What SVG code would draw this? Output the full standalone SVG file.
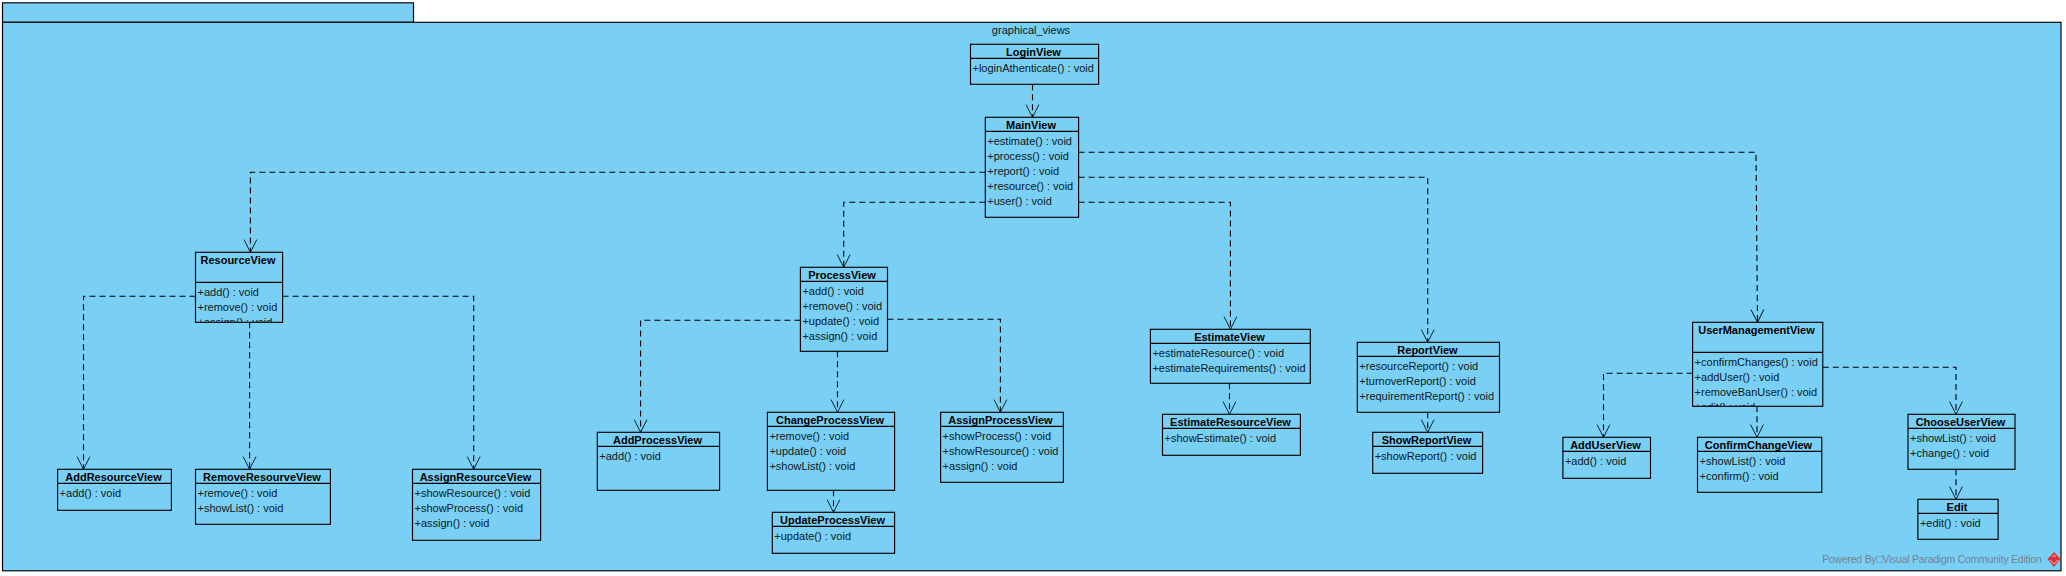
<svg xmlns="http://www.w3.org/2000/svg" width="2066" height="576" viewBox="0 0 2066 576">
<style>
text{font-family:"Liberation Sans",Arial,sans-serif;font-size:11px;fill:#0b1a22}
.b{fill:#7acff5;stroke:#000;stroke-width:1.15}
.d{fill:none;stroke:#000;stroke-width:1.15}
.t{font-weight:bold;text-anchor:middle;fill:#000}
.c{fill:none;stroke:#000;stroke-width:1.1;stroke-dasharray:6 4;marker-end:url(#open)}
.w{fill:#75838f;font-size:10.4px}
</style>
<defs>
<marker id="open" markerUnits="userSpaceOnUse" markerWidth="16" markerHeight="16" refX="13.2" refY="8" orient="auto" overflow="visible">
<path d="M0.5,1.6 L13.2,8 L0.5,14.4" fill="none" stroke="#0a2530" stroke-width="1"/>
</marker>
<clipPath id="clipResource"><rect x="195.5" y="282.3" width="87.1" height="40"/></clipPath>
<clipPath id="clipUser"><rect x="1692.6" y="352.3" width="130.2" height="54"/></clipPath>
</defs>
<rect width="2066" height="576" fill="#fff"/>
<g id="package">
<rect class="b" x="2.5" y="2.8" width="411" height="19.5"/>
<rect class="b" x="2.5" y="22.3" width="2058.5" height="548.5"/>
<text x="1031" y="34" text-anchor="middle">graphical_views</text>
</g>
<g id="connectors">
<path class="c" d="M1032.5,84.3V117.3"/>
<path class="c" d="M985.3,172.3H250.4V252.3"/>
<path class="c" d="M985.3,202.3H843.7V267.3"/>
<path class="c" d="M1078.6,202.3H1230.4V329.3"/>
<path class="c" d="M1078.6,177.3H1427.7V342.3"/>
<path class="c" d="M1078.6,152.3H1756L1757.5,322.3"/>
<path class="c" d="M195.5,296.3H83.5V469.3"/>
<path class="c" d="M249.6,322.3V469.3"/>
<path class="c" d="M282.6,296.3H473.7V469.3"/>
<path class="c" d="M800.4,320.3H640.6V432.3"/>
<path class="c" d="M837.5,351.3V412.3"/>
<path class="c" d="M887.5,319.3H1000.4V412.3"/>
<path class="c" d="M833.5,490.3V512.3"/>
<path class="c" d="M1229.5,383.3V414.3"/>
<path class="c" d="M1427.7,412.3V432.3"/>
<path class="c" d="M1692.6,373.3H1603.5V437.3"/>
<path class="c" d="M1757,406.3V437.3"/>
<path class="c" d="M1822.8,367.3H1956V414.3"/>
<path class="c" d="M1956,469.3V499.3"/>
</g>
<g id="LoginView"><rect class="b" x="970.5" y="44.3" width="128.1" height="40"/><path class="d" d="M970.5,58.3H1098.6"/><text class="t" x="1033.5" y="56">LoginView</text><text x="972.5" y="72.3">+loginAthenticate() : void</text></g>
<g id="MainView"><rect class="b" x="985.3" y="117.3" width="93.3" height="100"/><path class="d" d="M985.3,131.3H1078.6"/><text class="t" x="1031" y="129">MainView</text><text x="987.3" y="145.3">+estimate() : void</text><text x="987.3" y="160.3">+process() : void</text><text x="987.3" y="175.3">+report() : void</text><text x="987.3" y="190.3">+resource() : void</text><text x="987.3" y="205.3">+user() : void</text></g>
<g id="ResourceView"><rect class="b" x="195.5" y="252.3" width="87.1" height="70"/><path class="d" d="M195.5,282.3H282.6"/><text class="t" x="238" y="264">ResourceView</text><g clip-path="url(#clipResource)"><text x="197.5" y="296.3">+add() : void</text><text x="197.5" y="311.3">+remove() : void</text><text x="197.5" y="326.3">+assign() : void</text></g></g>
<g id="ProcessView"><rect class="b" x="800.4" y="267.3" width="87.1" height="84"/><path class="d" d="M800.4,281.3H887.5"/><text class="t" x="842" y="279">ProcessView</text><text x="802.4" y="295.3">+add() : void</text><text x="802.4" y="310.3">+remove() : void</text><text x="802.4" y="325.3">+update() : void</text><text x="802.4" y="340.3">+assign() : void</text></g>
<g id="EstimateView"><rect class="b" x="1150.4" y="329.3" width="159.9" height="54"/><path class="d" d="M1150.4,343.3H1310.3"/><text class="t" x="1229.5" y="341">EstimateView</text><text x="1152.4" y="357.3">+estimateResource() : void</text><text x="1152.4" y="372.3">+estimateRequirements() : void</text></g>
<g id="ReportView"><rect class="b" x="1357.3" y="342.3" width="142.2" height="70"/><path class="d" d="M1357.3,356.3H1499.5"/><text class="t" x="1427.5" y="354">ReportView</text><text x="1359.3" y="370.3">+resourceReport() : void</text><text x="1359.3" y="385.3">+turnoverReport() : void</text><text x="1359.3" y="400.3">+requirementReport() : void</text></g>
<g id="UserManagementView"><rect class="b" x="1692.6" y="322.3" width="130.2" height="84"/><path class="d" d="M1692.6,352.3H1822.8"/><text class="t" x="1756.5" y="334">UserManagementView</text><g clip-path="url(#clipUser)"><text x="1694.6" y="366.3">+confirmChanges() : void</text><text x="1694.6" y="381.3">+addUser() : void</text><text x="1694.6" y="396.3">+removeBanUser() : void</text><text x="1694.6" y="411.3">+edit() : void</text></g></g>
<g id="AddResourceView"><rect class="b" x="57.6" y="469.3" width="113.8" height="41"/><path class="d" d="M57.6,483.3H171.4"/><text class="t" x="113.5" y="481">AddResourceView</text><text x="59.6" y="497.3">+add() : void</text></g>
<g id="RemoveResourveView"><rect class="b" x="195.5" y="469.3" width="134.9" height="55"/><path class="d" d="M195.5,483.3H330.4"/><text class="t" x="262" y="481">RemoveResourveView</text><text x="197.5" y="497.3">+remove() : void</text><text x="197.5" y="512.3">+showList() : void</text></g>
<g id="AssignResourceView"><rect class="b" x="412.5" y="469.3" width="128.1" height="71"/><path class="d" d="M412.5,483.3H540.6"/><text class="t" x="475.5" y="481">AssignResourceView</text><text x="414.5" y="497.3">+showResource() : void</text><text x="414.5" y="512.3">+showProcess() : void</text><text x="414.5" y="527.3">+assign() : void</text></g>
<g id="AddProcessView"><rect class="b" x="597.3" y="432.3" width="122.3" height="58"/><path class="d" d="M597.3,446.3H719.6"/><text class="t" x="657.5" y="444">AddProcessView</text><text x="599.3" y="460.3">+add() : void</text></g>
<g id="ChangeProcessView"><rect class="b" x="767.4" y="412.3" width="127.2" height="78"/><path class="d" d="M767.4,426.3H894.6"/><text class="t" x="830" y="424">ChangeProcessView</text><text x="769.4" y="440.3">+remove() : void</text><text x="769.4" y="455.3">+update() : void</text><text x="769.4" y="470.3">+showList() : void</text></g>
<g id="AssignProcessView"><rect class="b" x="940.6" y="412.3" width="122.8" height="70"/><path class="d" d="M940.6,426.3H1063.4"/><text class="t" x="1000.5" y="424">AssignProcessView</text><text x="942.6" y="440.3">+showProcess() : void</text><text x="942.6" y="455.3">+showResource() : void</text><text x="942.6" y="470.3">+assign() : void</text></g>
<g id="UpdateProcessView"><rect class="b" x="772.3" y="512.3" width="122.3" height="41"/><path class="d" d="M772.3,526.3H894.6"/><text class="t" x="832.5" y="524">UpdateProcessView</text><text x="774.3" y="540.3">+update() : void</text></g>
<g id="EstimateResourceView"><rect class="b" x="1162.5" y="414.3" width="137.9" height="41"/><path class="d" d="M1162.5,428.3H1300.4"/><text class="t" x="1230.5" y="426">EstimateResourceView</text><text x="1164.5" y="442.3">+showEstimate() : void</text></g>
<g id="ShowReportView"><rect class="b" x="1372.7" y="432.3" width="109.9" height="41"/><path class="d" d="M1372.7,446.3H1482.6"/><text class="t" x="1426.5" y="444">ShowReportView</text><text x="1374.7" y="460.3">+showReport() : void</text></g>
<g id="AddUserView"><rect class="b" x="1562.9" y="437.3" width="87.6" height="41"/><path class="d" d="M1562.9,451.3H1650.5"/><text class="t" x="1605.5" y="449">AddUserView</text><text x="1564.9" y="465.3">+add() : void</text></g>
<g id="ConfirmChangeView"><rect class="b" x="1697.5" y="437.3" width="124.3" height="55"/><path class="d" d="M1697.5,451.3H1821.8"/><text class="t" x="1758.5" y="449">ConfirmChangeView</text><text x="1699.5" y="465.3">+showList() : void</text><text x="1699.5" y="480.3">+confirm() : void</text></g>
<g id="ChooseUserView"><rect class="b" x="1908" y="414.3" width="107" height="55"/><path class="d" d="M1908,428.3H2015"/><text class="t" x="1960.5" y="426">ChooseUserView</text><text x="1910" y="442.3">+showList() : void</text><text x="1910" y="457.3">+change() : void</text></g>
<g id="Edit"><rect class="b" x="1917.9" y="499.3" width="80.2" height="40"/><path class="d" d="M1917.9,513.3H1998.1"/><text class="t" x="1957" y="511">Edit</text><text x="1919.9" y="527.3">+edit() : void</text></g>
<g id="watermark">
<text class="w" x="1822.3" y="563.3" textLength="219.4" lengthAdjust="spacing">Powered By□Visual Paradigm Community Edition</text>
<polygon points="2054,552 2060.5,559 2054,567 2047.5,559" fill="#d9343a"/>
<path d="M2050,560L2054,564L2058,560M2052,556L2056,556" fill="none" stroke="#f3b9b5" stroke-width="1"/>
</g>
</svg>
